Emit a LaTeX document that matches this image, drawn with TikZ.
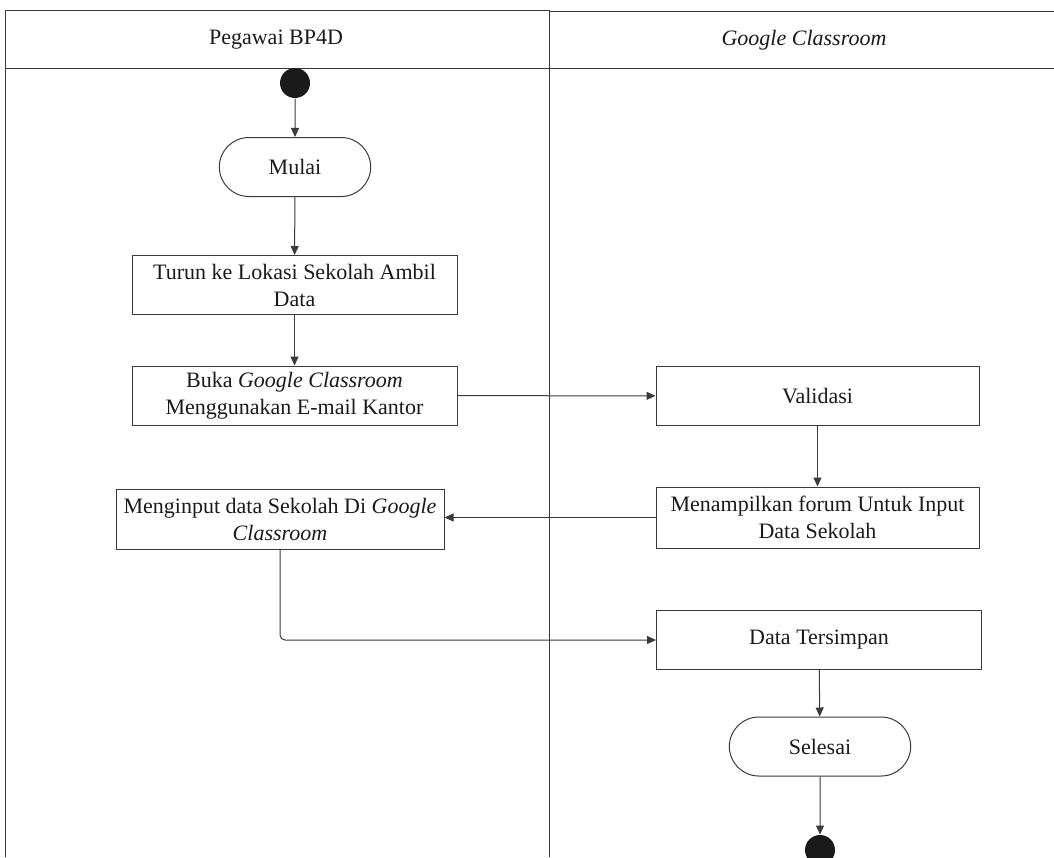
\documentclass[tikz,border=0pt]{standalone}
\usepackage{fontspec}
\setmainfont{Liberation Serif}
\usepackage{tikz}
\usetikzlibrary{positioning,arrows.meta,shapes.misc,calc}
\definecolor{ink}{HTML}{1A1A1A}
\definecolor{rule}{HTML}{3A3A3A}

\begin{document}
\begin{tikzpicture}[x=1pt, y=-1pt, line width=1pt, rule,
  every node/.style={font=\fontsize{22}{27}\selectfont, text=ink},
  actbox/.style={draw=rule, rectangle, inner sep=2pt, minimum width=325pt, minimum height=59pt, align=center},
  actround/.style={draw=rule, rounded rectangle, minimum height=59pt, align=center},
  dot/.style={circle, fill=ink, draw=none, minimum size=30pt, inner sep=0pt},
  flow/.style={draw=rule, -{Triangle[length=9pt, width=8pt]}}]
  \useasboundingbox (0,0) rectangle (1054,857);
  % swimlanes
  \draw (5,857) -- (5,10) -- (549,10) -- (549,857);
  \draw (549,11) -- (1054,11);
  \draw (5,68) -- (1054,68);
  \node (lane1) at (276,40) {Pegawai BP4D};
  \node (lane2) at (804,40) {\textit{Google Classroom}};
  % left lane
  \node[dot] (start) at (295,83) {};
  \node[actround, minimum width=158pt] (mulai) at (295,167) {Mulai};
  \node[actbox] (turun) at (294.5,285) {Turun ke Lokasi Sekolah Ambil\\Data};
  \node[actbox] (buka) at (294.5,395.5) {Buka \textit{Google Classroom}\\Menggunakan E-mail Kantor};
  \node[actbox, minimum width=328pt, minimum height=60pt] (input) at (280,519) {Menginput data Sekolah Di \textit{Google}\\\textit{Classroom}};
  % right lane
  \node[actbox, minimum width=323pt] (validasi) at (817.5,396) {Validasi};
  \node[actbox, minimum width=323pt, minimum height=61pt] (forum) at (817.5,517.5) {Menampilkan forum Untuk Input\\Data Sekolah};
  \node[actbox] (simpan) at (819,640) {Data Tersimpan};
  \node[actround, minimum width=188pt] (selesai) at (820,746.5) {Selesai};
  \node[dot] (stop) at (820,850) {};
  % connectors
  \draw[flow] (start) -- (mulai);
  \draw[flow] (mulai) -- (turun);
  \draw[flow] (turun) -- (buka);
  \draw[flow] (buka) -- (validasi);
  \draw[flow] (validasi) -- (forum);
  \draw[flow] (forum.west) -- (forum.west -| input.east);
  \draw[flow, rounded corners=5pt] (input.south) |- (simpan.west);
  \draw[flow] (simpan) -- (selesai);
  \draw[flow] (selesai) -- (stop);
\end{tikzpicture}
\end{document}
